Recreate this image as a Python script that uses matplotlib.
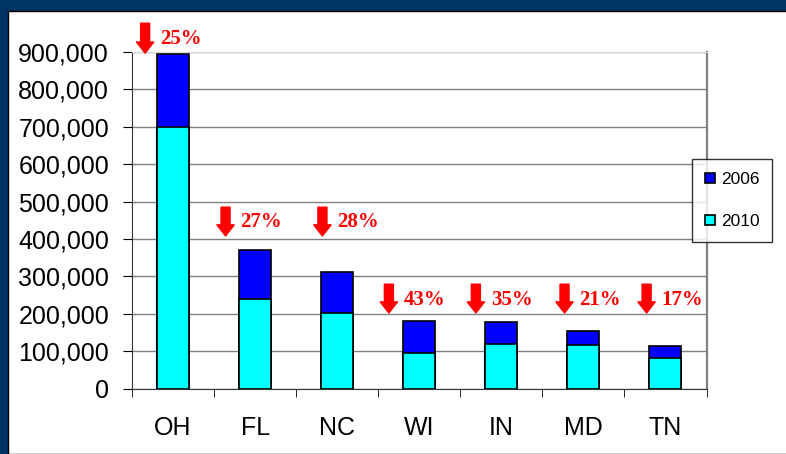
import matplotlib.pyplot as plt
from matplotlib.patches import Rectangle
from matplotlib.ticker import FuncFormatter, FixedLocator
import numpy as np

plt.rcParams['font.family'] = ['Liberation Sans', 'DejaVu Sans']

# data
states = ['OH', 'FL', 'NC', 'WI', 'IN', 'MD', 'TN']
v2006 = [895000, 370000, 312000, 181000, 177000, 155000, 114000]
v2010 = [700000, 240000, 203000, 95000, 118000, 117000, 82000]
drop_pct = ['25%', '27%', '28%', '43%', '35%', '21%', '17%']

# where the red arrows sit (layout only)
arrow_dx = [-0.34, -0.36, -0.18, -0.37, -0.31, -0.23, -0.23]
arrow_top = [977000, 485000, 485000, 279000, 279000, 279000, 279000]
arrow_bot = [897000, 408000, 408000, 202000, 202000, 202000, 202000]
text_base = [921000, 431000, 431000, 223000, 223000, 223000, 223000]

fig = plt.figure(figsize=(7.86, 4.54), dpi=100)
fig.patch.set_facecolor('#003366')
fig.add_artist(Rectangle((8 / 786, 0), 1, (454 - 11) / 454, transform=fig.transFigure,
                         facecolor='white', edgecolor='black', lw=1, zorder=-1))

ax = fig.add_axes([132 / 786, 1 - 388.5 / 454, (706.5 - 132) / 786, 336.5 / 454])
x = np.arange(len(states))

b1 = ax.bar(x, v2006, width=0.39, color='#0000FF', edgecolor='black', lw=1.2, label='2006', zorder=2)
b2 = ax.bar(x, v2010, width=0.39, color='#00FFFF', edgecolor='black', lw=1.2, label='2010', zorder=3)

ax.set_xlim(-0.5, len(states) - 0.5)
ax.set_ylim(0, 900000)
ax.set_yticks(np.arange(0, 900001, 100000))
ax.yaxis.set_major_formatter(FuncFormatter(lambda v, p: f'{int(v):,}'))
ax.yaxis.grid(True, color='#808080', lw=1)
ax.set_axisbelow(True)

ax.set_xticks(x)
ax.set_xticklabels(states)
ax.xaxis.set_minor_locator(FixedLocator(np.arange(-0.5, len(states), 1)))
ax.tick_params(axis='x', which='major', length=0, pad=19.5, labelsize=18)
ax.tick_params(axis='x', which='minor', length=6, direction='out', color='black')
ax.tick_params(axis='y', length=6.5, direction='out', pad=10, labelsize=18)

ax.spines['top'].set_color('#d8d8d8')
ax.spines['right'].set_color('#808080')
ax.spines['right'].set_linewidth(1.6)
ax.spines['left'].set_color('#333333')
ax.spines['bottom'].set_color('#333333')

for i in range(len(states)):
    ax_x = x[i] + arrow_dx[i]
    ax.annotate('', xy=(ax_x, arrow_bot[i]), xytext=(ax_x, arrow_top[i]),
                arrowprops=dict(facecolor='red', edgecolor='red', width=6.5,
                                headwidth=12.5, headlength=8, shrink=0),
                annotation_clip=False, zorder=5)
    ax.text(ax_x + 0.18, text_base[i], drop_pct[i], color='red', fontsize=15,
            fontweight='bold', family='Liberation Serif', va='baseline', ha='left',
            clip_on=False, zorder=5)

leg = fig.legend(handles=[b1, b2], loc='upper left', bbox_to_anchor=(692 / 786, 1 - 159 / 454),
                 fontsize=12.5, frameon=True, fancybox=False, edgecolor='black',
                 handlelength=0.55, handleheight=0.55, handletextpad=0.35,
                 labelspacing=1.55, borderpad=0.75, borderaxespad=0)
leg.get_frame().set_linewidth(1)

fig.savefig('out.png', dpi=100, facecolor=fig.get_facecolor())
